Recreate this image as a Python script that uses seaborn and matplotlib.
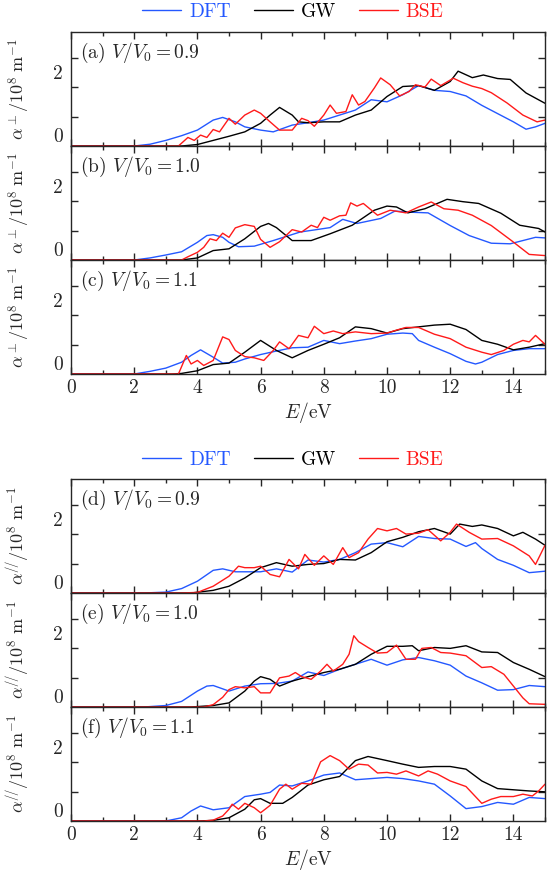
import pandas as pd
import matplotlib
matplotlib.use('Agg')
import matplotlib.pyplot as plt
import seaborn as sns

# Read-off values (y in units of the inner tick spacing; curve baseline at 0)
methods = ['DFT', 'GW', 'BSE']
colors = {'DFT': '#2458ff', 'GW': 'black', 'BSE': '#ff1a1a'}
panel_tags = ['(a)', '(b)', '(c)', '(d)', '(e)', '(f)']
ratios = ['0.9', '1.0', '1.1', '0.9', '1.0', '1.1']

# (a) perpendicular, V/V0 = 0.9
a_dft_e = [0, 2.0, 2.5, 3.0, 3.5, 4.0, 4.5, 4.8, 5.2, 5.5, 6.0, 6.4, 7.0, 7.5, 8.0, 8.5, 9.0, 9.5, 10.0, 10.5, 11.0, 11.5, 12.0, 12.5, 13.0, 13.5, 14.0, 14.4, 14.7, 15.0]
a_dft_y = [0, 0, 0.06, 0.19, 0.35, 0.54, 0.88, 0.97, 0.82, 0.65, 0.54, 0.48, 0.71, 0.79, 0.88, 1.05, 1.22, 1.57, 1.50, 1.74, 2.05, 1.89, 1.85, 1.70, 1.38, 1.10, 0.82, 0.57, 0.65, 0.77]
a_gw_e = [0, 3.5, 4.0, 4.5, 5.0, 5.5, 6.0, 6.3, 6.6, 7.0, 7.2, 7.5, 8.0, 8.5, 9.0, 9.5, 10.0, 10.5, 11.0, 11.5, 12.0, 12.25, 12.7, 13.05, 13.5, 13.9, 14.4, 15.0]
a_gw_y = [0, 0, 0.05, 0.19, 0.33, 0.48, 0.77, 1.05, 1.31, 1.05, 0.82, 0.79, 0.82, 0.82, 1.05, 1.22, 1.68, 2.02, 2.05, 1.89, 2.19, 2.54, 2.32, 2.41, 2.29, 2.26, 1.80, 1.45]
a_bse_e = [0, 3.4, 3.7, 3.9, 4.1, 4.3, 4.5, 4.7, 5.0, 5.2, 5.5, 5.8, 6.0, 6.3, 6.6, 7.0, 7.3, 7.5, 7.7, 8.0, 8.2, 8.4, 8.7, 8.9, 9.1, 9.3, 9.6, 9.8, 10.1, 10.4, 10.7, 10.9, 11.2, 11.4, 11.7, 12.1, 12.4, 12.7, 13.0, 13.3, 13.8, 14.3, 14.75, 15.0]
a_bse_y = [0, 0, 0.29, 0.19, 0.37, 0.29, 0.56, 0.48, 0.94, 0.74, 1.05, 1.22, 1.11, 0.82, 0.54, 0.54, 0.94, 0.86, 0.67, 1.05, 1.39, 1.11, 1.17, 1.74, 1.39, 1.51, 1.97, 2.31, 2.08, 1.70, 1.85, 2.08, 2.00, 2.27, 2.05, 2.30, 2.15, 2.03, 1.95, 1.81, 1.46, 1.05, 0.82, 0.88]

# (b) perpendicular, V/V0 = 1.0
b_dft_e = [0, 2.0, 2.5, 3.0, 3.5, 4.0, 4.3, 4.5, 4.8, 5.0, 5.3, 5.8, 6.4, 7.25, 7.7, 8.2, 8.6, 9.05, 9.8, 10.25, 10.8, 11.3, 12.0, 12.6, 13.3, 13.9, 14.7, 15.0]
b_dft_y = [0, 0, 0.07, 0.17, 0.28, 0.60, 0.83, 0.86, 0.77, 0.60, 0.45, 0.47, 0.66, 0.95, 1.02, 1.10, 1.38, 1.24, 1.41, 1.66, 1.62, 1.60, 1.17, 0.83, 0.57, 0.55, 0.77, 0.75]
b_gw_e = [0, 3.5, 4.0, 4.5, 5.0, 5.5, 6.0, 6.25, 6.5, 7.0, 7.6, 8.2, 8.9, 9.6, 10.0, 10.3, 10.66, 11.2, 11.9, 12.4, 12.9, 13.6, 14.2, 14.8, 15.0]
b_gw_y = [0, 0, 0.07, 0.32, 0.38, 0.72, 1.14, 1.24, 1.10, 0.66, 0.66, 0.89, 1.18, 1.69, 1.83, 1.80, 1.60, 1.74, 2.06, 1.98, 1.92, 1.59, 1.18, 1.07, 0.95]
b_bse_e = [0, 3.5, 3.7, 4.0, 4.2, 4.4, 4.6, 4.8, 5.0, 5.2, 5.5, 5.8, 6.0, 6.3, 6.6, 7.0, 7.3, 7.6, 7.8, 8.0, 8.2, 8.5, 8.7, 8.85, 9.05, 9.25, 9.7, 10.1, 10.6, 11.0, 11.4, 11.8, 12.25, 12.7, 13.3, 13.95, 14.5, 15.0]
b_bse_y = [0, 0, 0.11, 0.26, 0.43, 0.72, 0.66, 0.91, 0.77, 1.09, 1.20, 1.14, 0.70, 0.43, 0.62, 1.03, 0.95, 1.18, 1.10, 1.45, 1.35, 1.50, 1.52, 1.94, 1.83, 1.92, 1.52, 1.69, 1.60, 1.80, 1.97, 1.74, 1.69, 1.52, 1.17, 0.65, 0.19, 0.15]

# (c) perpendicular, V/V0 = 1.1
c_dft_e = [0, 2.0, 2.5, 3.0, 3.5, 3.8, 4.1, 4.5, 4.8, 5.2, 5.5, 6.0, 6.5, 7.0, 7.5, 8.0, 8.5, 9.0, 9.5, 10.0, 10.5, 10.8, 11.0, 11.5, 12.0, 12.5, 12.8, 13.0, 13.5, 14.0, 14.5, 15.0]
c_dft_y = [0, 0, 0.09, 0.20, 0.40, 0.63, 0.82, 0.57, 0.37, 0.40, 0.51, 0.66, 0.78, 0.89, 0.91, 1.14, 1.03, 1.12, 1.20, 1.35, 1.39, 1.37, 1.14, 0.91, 0.69, 0.43, 0.34, 0.40, 0.66, 0.80, 0.86, 0.86]
c_gw_e = [0, 3.2, 3.5, 4.0, 4.5, 5.0, 5.5, 6.0, 6.5, 7.0, 7.5, 8.0, 8.5, 9.0, 9.5, 10.0, 10.5, 11.0, 11.5, 12.0, 12.5, 13.0, 13.5, 14.0, 14.5, 15.0]
c_gw_y = [0, 0, 0.02, 0.11, 0.32, 0.37, 0.74, 1.14, 0.80, 0.55, 0.80, 1.01, 1.23, 1.60, 1.54, 1.39, 1.54, 1.60, 1.66, 1.69, 1.51, 1.14, 1.01, 0.82, 0.91, 1.03]
c_bse_e = [0, 3.4, 3.65, 3.8, 4.0, 4.2, 4.5, 4.8, 5.0, 5.2, 5.5, 5.8, 6.1, 6.4, 6.6, 6.9, 7.2, 7.5, 7.7, 8.0, 8.3, 8.6, 9.0, 9.5, 10.0, 10.3, 10.6, 11.0, 11.5, 12.0, 12.5, 13.0, 13.3, 13.7, 14.0, 14.3, 14.5, 14.7, 15.0]
c_bse_y = [0, 0, 0.63, 0.34, 0.46, 0.29, 0.46, 1.26, 1.17, 0.80, 0.59, 0.55, 0.46, 0.80, 1.09, 0.86, 1.31, 1.23, 1.62, 1.37, 1.46, 1.37, 1.43, 1.37, 1.39, 1.49, 1.58, 1.58, 1.35, 1.20, 0.91, 0.74, 0.66, 0.80, 1.01, 1.14, 1.09, 1.31, 1.01]

# (d) parallel, V/V0 = 0.9
d_dft_e = [0, 2.3, 3.0, 3.5, 4.0, 4.5, 4.8, 5.2, 6.0, 6.5, 7.0, 7.5, 8.0, 8.5, 9.0, 9.5, 10.0, 10.5, 11.0, 11.5, 12.0, 12.5, 12.8, 13.0, 13.5, 14.0, 14.5, 15.0]
d_dft_y = [0, 0, 0.03, 0.15, 0.40, 0.77, 0.82, 0.72, 0.72, 0.82, 0.71, 1.12, 1.05, 1.14, 1.37, 1.66, 1.71, 1.57, 1.92, 1.85, 1.83, 1.58, 1.71, 1.51, 1.14, 0.94, 0.69, 0.74]
d_gw_e = [0, 3.8, 4.5, 5.0, 5.5, 6.0, 6.5, 7.0, 7.5, 8.0, 8.5, 9.0, 9.5, 10.0, 10.5, 11.0, 11.5, 12.0, 12.3, 12.7, 13.0, 13.5, 14.0, 14.3, 14.7, 15.0]
d_gw_y = [0, 0, 0.09, 0.23, 0.51, 0.86, 1.03, 0.91, 0.97, 1.00, 1.14, 1.12, 1.37, 1.74, 1.89, 2.08, 2.19, 2.00, 2.34, 2.26, 2.31, 2.19, 1.94, 2.06, 1.83, 1.62]
d_bse_e = [0, 3.5, 4.0, 4.5, 5.0, 5.3, 5.5, 5.8, 6.0, 6.3, 6.6, 6.9, 7.2, 7.4, 7.7, 8.0, 8.3, 8.6, 8.8, 9.1, 9.4, 9.7, 10.0, 10.3, 10.6, 11.0, 11.3, 11.7, 12.0, 12.2, 12.6, 13.0, 13.5, 14.0, 14.5, 14.7, 15.0]
d_bse_y = [0, 0, 0.02, 0.23, 0.57, 0.91, 0.86, 0.86, 0.91, 0.63, 0.55, 1.14, 0.82, 1.31, 0.94, 1.26, 0.97, 1.54, 1.20, 1.37, 1.83, 2.19, 2.11, 2.19, 2.00, 2.03, 2.15, 1.77, 2.06, 2.34, 2.06, 1.83, 1.85, 1.60, 1.26, 0.97, 1.62]

# (e) parallel, V/V0 = 1.0
e_dft_e = [0, 2.3, 3.0, 3.5, 4.0, 4.3, 4.5, 5.0, 5.5, 6.0, 6.5, 7.0, 7.5, 8.0, 8.5, 9.0, 9.5, 10.0, 10.5, 11.0, 11.5, 12.0, 12.5, 13.0, 13.5, 14.0, 14.5, 15.0]
e_dft_y = [0, 0, 0.05, 0.19, 0.54, 0.71, 0.73, 0.54, 0.71, 0.79, 0.80, 0.88, 1.19, 1.07, 1.28, 1.45, 1.62, 1.42, 1.60, 1.68, 1.57, 1.42, 1.05, 0.82, 0.57, 0.59, 0.73, 0.69]
e_gw_e = [0, 3.8, 4.5, 5.0, 5.5, 5.8, 6.0, 6.3, 6.6, 7.0, 7.5, 8.0, 8.5, 9.0, 9.5, 10.0, 10.5, 10.8, 11.0, 11.5, 12.0, 12.5, 13.0, 13.5, 14.0, 14.5, 15.0]
e_gw_y = [0, 0, 0.05, 0.14, 0.54, 0.88, 1.03, 0.94, 0.71, 0.88, 1.03, 1.17, 1.28, 1.45, 1.79, 2.06, 2.06, 2.08, 1.91, 2.02, 1.99, 2.08, 1.87, 1.85, 1.51, 1.28, 1.03]
e_bse_e = [0, 4.2, 4.5, 4.8, 5.0, 5.2, 5.5, 5.8, 6.0, 6.3, 6.6, 6.9, 7.1, 7.3, 7.6, 7.9, 8.1, 8.3, 8.6, 8.8, 8.95, 9.1, 9.4, 9.7, 10.0, 10.3, 10.6, 10.9, 11.1, 11.4, 11.7, 12.0, 12.5, 13.0, 13.3, 13.7, 14.0, 14.3, 14.5, 15.0]
e_bse_y = [0, 0, 0.08, 0.33, 0.59, 0.69, 0.65, 0.69, 0.48, 0.48, 0.99, 1.05, 1.17, 1.03, 0.94, 1.22, 1.45, 1.22, 1.45, 1.79, 2.42, 2.22, 2.02, 1.83, 1.85, 2.10, 1.62, 1.62, 1.99, 2.02, 1.85, 1.83, 1.74, 1.34, 1.37, 1.11, 0.71, 0.31, 0.11, 0.09]

# (f) parallel, V/V0 = 1.1
f_dft_e = [0, 3.0, 3.5, 3.8, 4.1, 4.5, 5.0, 5.5, 6.0, 6.3, 6.6, 7.0, 7.5, 8.0, 8.5, 9.0, 9.5, 10.0, 10.5, 11.0, 11.5, 12.0, 12.5, 13.0, 13.5, 14.0, 14.5, 15.0]
f_dft_y = [0, 0, 0.11, 0.34, 0.51, 0.38, 0.45, 0.83, 0.91, 0.97, 1.22, 1.19, 1.36, 1.56, 1.63, 1.40, 1.44, 1.48, 1.44, 1.36, 1.25, 0.85, 0.42, 0.49, 0.63, 0.57, 0.80, 0.76]
f_gw_e = [0, 4.0, 4.5, 5.0, 5.5, 5.8, 6.0, 6.3, 6.7, 7.0, 7.5, 8.0, 8.5, 9.0, 9.4, 10.0, 10.5, 11.0, 11.5, 12.0, 12.5, 13.0, 13.5, 14.0, 14.5, 15.0]
f_gw_y = [0, 0, 0.02, 0.11, 0.40, 0.72, 0.76, 0.60, 0.60, 0.80, 1.22, 1.40, 1.51, 2.05, 2.19, 2.05, 1.93, 1.82, 1.85, 1.85, 1.76, 1.36, 1.10, 1.06, 1.02, 0.99]
f_bse_e = [0, 4.2, 4.5, 4.8, 5.0, 5.1, 5.3, 5.5, 5.8, 6.0, 6.3, 6.6, 6.8, 7.0, 7.3, 7.6, 7.9, 8.2, 8.5, 8.8, 9.1, 9.4, 9.7, 10.0, 10.3, 10.6, 11.0, 11.3, 11.6, 12.0, 12.5, 13.0, 13.3, 13.6, 14.0, 14.3, 14.6, 14.8, 15.0]
f_bse_y = [0, 0, 0.03, 0.17, 0.40, 0.57, 0.40, 0.60, 0.45, 0.28, 0.53, 1.08, 1.25, 1.08, 1.28, 1.25, 2.01, 2.22, 2.05, 1.76, 1.93, 1.90, 1.63, 1.65, 1.59, 1.70, 1.53, 1.70, 1.59, 1.36, 1.17, 0.60, 0.74, 0.83, 0.83, 0.91, 0.85, 1.02, 1.25]

panels = [
    [(a_dft_e, a_dft_y), (a_gw_e, a_gw_y), (a_bse_e, a_bse_y)],
    [(b_dft_e, b_dft_y), (b_gw_e, b_gw_y), (b_bse_e, b_bse_y)],
    [(c_dft_e, c_dft_y), (c_gw_e, c_gw_y), (c_bse_e, c_bse_y)],
    [(d_dft_e, d_dft_y), (d_gw_e, d_gw_y), (d_bse_e, d_bse_y)],
    [(e_dft_e, e_dft_y), (e_gw_e, e_gw_y), (e_bse_e, e_bse_y)],
    [(f_dft_e, f_dft_y), (f_gw_e, f_gw_y), (f_bse_e, f_bse_y)],
]

ylabels = [r'$\alpha^{\bot}/10^{8}\ \mathrm{m}^{-1}$',
           r'$\alpha^{/\!/}/10^{8}\ \mathrm{m}^{-1}$']

# Style
sns.set_style('ticks')
plt.rcParams['font.family'] = ['cmr10', 'DejaVu Serif']
plt.rcParams['mathtext.fontset'] = 'cm'
plt.rcParams['axes.unicode_minus'] = False
plt.rcParams['axes.linewidth'] = 1.0
plt.rcParams['font.size'] = 14

W, H = 547, 877
fig = plt.figure(figsize=(W / 100, H / 100), dpi=100)

left, width = 71 / W, 474 / W
group_tops = [32, 479]
ph = 114

for g in range(2):
    axes = []
    for k in range(3):
        i = g * 3 + k
        bottom = 1 - (group_tops[g] + ph * (k + 1)) / H
        ax = fig.add_axes([left, bottom, width, ph / H])
        axes.append(ax)

        for m, (xe, yv) in zip(methods, panels[i]):
            df = pd.DataFrame({'E': xe, 'alpha': yv})
            sns.lineplot(data=df, x='E', y='alpha', ax=ax, color=colors[m],
                         lw=1.0, label=m, sort=False, estimator=None)
        if ax.get_legend() is not None:
            ax.get_legend().remove()

        ax.set_xlim(0, 15)
        ax.set_ylim(0, 3.87)
        ax.set_xticks(range(0, 15, 2))
        ax.set_xticks(range(0, 16), minor=True)
        ax.set_yticks([0.36, 2.5], labels=['0', '2'])
        ax.set_yticks([1, 2, 3], minor=True)
        ax.tick_params(axis='both', which='both', direction='in',
                       top=True, right=True, labelsize=14)
        ax.tick_params(axis='x', which='major', length=5, width=1.0, pad=4)
        ax.tick_params(axis='x', which='minor', length=2.8, width=1.0)
        ax.tick_params(axis='y', which='major', length=0, pad=6)
        ax.tick_params(axis='y', which='minor', length=5, width=1.0)

        ax.set_ylabel(ylabels[g], fontsize=13)
        ax.yaxis.set_label_coords(-0.083, 0.5)
        ax.set_xlabel('')
        ax.text(0.02, 0.82, panel_tags[i] + r' $V/V_0=' + ratios[i] + '$',
                transform=ax.transAxes, ha='left', va='center', fontsize=14)

        if k < 2:
            ax.tick_params(labelbottom=False)
        else:
            ax.set_xlabel(r'$E/\mathrm{eV}$', fontsize=14, labelpad=2)

    handles, labels = axes[0].get_legend_handles_labels()
    leg_y = 1 - (12 if g == 0 else 460) / H
    leg = fig.legend(handles, labels, loc='center', bbox_to_anchor=(293 / W, leg_y),
                     ncol=3, frameon=False, fontsize=14, handlelength=2.0,
                     handletextpad=0.4, columnspacing=1.2)
    for txt, m in zip(leg.get_texts(), methods):
        txt.set_color(colors[m])

fig.savefig('out.png', dpi=100)
